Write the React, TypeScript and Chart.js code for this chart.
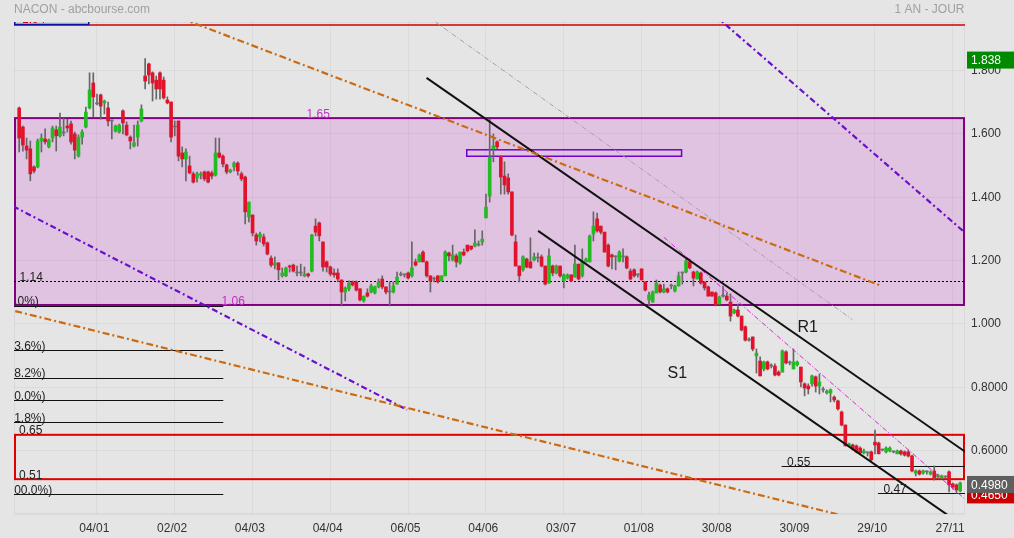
import React, { useEffect, useRef } from "react";
import { Chart, registerables } from "chart.js";
Chart.register(...registerables);

// ---- Daily OHLC, one value per trading session (index 0 = first session shown) ----
const OPEN = [1.682,1.622,1.562,1.553,1.496,1.496,1.578,1.584,1.559,1.587,1.613,1.594,1.603,1.625,1.632,1.600,1.530,1.590,1.622,1.682,1.761,1.695,1.723,1.698,1.682,1.641,1.609,1.606,1.673,1.628,1.590,1.562,1.590,1.641,1.783,1.821,1.793,1.770,1.793,1.770,1.707,1.701,1.622,1.641,1.540,1.521,1.499,1.474,1.461,1.470,1.480,1.480,1.477,1.470,1.540,1.530,1.502,1.480,1.496,1.508,1.474,1.464,1.338,1.344,1.281,1.275,1.275,1.256,1.208,1.186,1.193,1.152,1.152,1.183,1.186,1.161,1.161,1.152,1.158,1.167,1.309,1.319,1.259,1.196,1.180,1.161,1.161,1.139,1.101,1.111,1.133,1.133,1.111,1.073,1.098,1.101,1.098,1.117,1.142,1.117,1.101,1.101,1.126,1.155,1.155,1.161,1.152,1.196,1.196,1.227,1.196,1.152,1.142,1.152,1.136,1.152,1.224,1.202,1.215,1.193,1.227,1.249,1.246,1.246,1.249,1.259,1.335,1.404,1.553,1.575,1.530,1.467,1.461,1.417,1.259,1.183,1.171,1.205,1.196,1.202,1.208,1.212,1.183,1.129,1.183,1.161,1.183,1.136,1.145,1.155,1.148,1.189,1.152,1.196,1.196,1.284,1.332,1.309,1.290,1.249,1.218,1.212,1.199,1.212,1.212,1.167,1.171,1.155,1.174,1.133,1.076,1.069,1.098,1.123,1.101,1.111,1.120,1.104,1.120,1.161,1.164,1.196,1.164,1.142,1.161,1.133,1.117,1.101,1.098,1.063,1.088,1.088,1.069,1.035,1.044,1.025,0.991,0.949,0.959,0.899,0.883,0.858,0.880,0.867,0.867,0.848,0.848,0.912,0.877,0.858,0.871,0.864,0.811,0.804,0.811,0.833,0.804,0.792,0.782,0.782,0.769,0.757,0.722,0.681,0.615,0.618,0.615,0.608,0.593,0.593,0.596,0.627,0.624,0.602,0.596,0.599,0.596,0.590,0.599,0.596,0.596,0.583,0.529,0.536,0.529,0.533,0.526,0.536,0.517,0.514,0.517,0.533,0.495,0.492,0.473];
const HIGH = [1.685,1.625,1.587,1.578,1.499,1.584,1.600,1.616,1.584,1.625,1.625,1.666,1.650,1.647,1.641,1.606,1.597,1.613,1.685,1.793,1.793,1.726,1.726,1.707,1.701,1.644,1.628,1.631,1.676,1.638,1.594,1.628,1.641,1.692,1.838,1.824,1.796,1.783,1.796,1.780,1.717,1.701,1.641,1.641,1.559,1.553,1.530,1.480,1.480,1.480,1.483,1.483,1.483,1.587,1.587,1.534,1.505,1.489,1.512,1.512,1.480,1.467,1.385,1.344,1.287,1.290,1.284,1.259,1.215,1.212,1.193,1.177,1.180,1.186,1.189,1.183,1.189,1.180,1.161,1.283,1.332,1.322,1.259,1.199,1.183,1.174,1.174,1.139,1.117,1.136,1.136,1.136,1.111,1.088,1.111,1.126,1.120,1.142,1.152,1.117,1.133,1.133,1.164,1.164,1.158,1.164,1.259,1.205,1.221,1.231,1.199,1.152,1.148,1.152,1.152,1.231,1.227,1.249,1.221,1.227,1.237,1.249,1.246,1.297,1.262,1.294,1.410,1.647,1.600,1.578,1.530,1.512,1.474,1.417,1.281,1.183,1.215,1.208,1.272,1.224,1.224,1.218,1.183,1.237,1.186,1.186,1.183,1.158,1.158,1.155,1.249,1.189,1.237,1.208,1.281,1.354,1.350,1.309,1.290,1.253,1.221,1.215,1.231,1.237,1.215,1.174,1.174,1.158,1.174,1.133,1.101,1.104,1.139,1.126,1.126,1.114,1.126,1.123,1.164,1.164,1.205,1.205,1.167,1.167,1.164,1.133,1.120,1.101,1.101,1.088,1.120,1.098,1.095,1.047,1.063,1.025,0.994,0.956,0.959,0.921,0.896,0.883,0.883,0.874,0.874,0.852,0.918,0.915,0.883,0.921,0.883,0.864,0.814,0.811,0.839,0.836,0.842,0.801,0.792,0.795,0.773,0.760,0.725,0.681,0.624,0.621,0.618,0.612,0.605,0.596,0.599,0.665,0.627,0.605,0.612,0.612,0.599,0.602,0.602,0.599,0.602,0.586,0.539,0.539,0.539,0.536,0.536,0.552,0.526,0.523,0.520,0.536,0.498,0.495,0.501];
const LOW = [1.543,1.546,1.521,1.452,1.477,1.493,1.543,1.568,1.556,1.575,1.546,1.590,1.594,1.606,1.568,1.521,1.527,1.568,1.619,1.679,1.654,1.692,1.647,1.663,1.625,1.584,1.606,1.603,1.600,1.594,1.553,1.559,1.562,1.638,1.742,1.758,1.704,1.710,1.710,1.710,1.695,1.575,1.594,1.515,1.496,1.452,1.474,1.445,1.448,1.458,1.452,1.445,1.458,1.467,1.524,1.496,1.474,1.477,1.483,1.470,1.452,1.316,1.322,1.278,1.249,1.259,1.246,1.218,1.180,1.174,1.139,1.148,1.149,1.164,1.164,1.152,1.152,1.149,1.148,1.164,1.278,1.262,1.167,1.164,1.152,1.148,1.133,1.057,1.073,1.104,1.120,1.104,1.073,1.069,1.085,1.098,1.095,1.114,1.111,1.095,1.057,1.098,1.126,1.152,1.148,1.142,1.148,1.183,1.196,1.196,1.148,1.101,1.133,1.129,1.136,1.152,1.199,1.199,1.180,1.189,1.215,1.227,1.234,1.243,1.246,1.249,1.335,1.385,1.512,1.553,1.410,1.410,1.410,1.278,1.183,1.133,1.167,1.177,1.177,1.199,1.196,1.180,1.123,1.129,1.152,1.158,1.148,1.114,1.142,1.133,1.148,1.139,1.148,1.196,1.196,1.262,1.290,1.284,1.227,1.180,1.174,1.171,1.196,1.196,1.174,1.139,1.148,1.148,1.139,1.104,1.057,1.069,1.098,1.098,1.098,1.098,1.111,1.101,1.120,1.126,1.161,1.174,1.120,1.142,1.126,1.107,1.088,1.088,1.057,1.063,1.085,1.073,1.009,1.032,1.022,0.978,0.946,0.946,0.915,0.845,0.836,0.852,0.855,0.861,0.836,0.836,0.848,0.874,0.871,0.858,0.867,0.801,0.773,0.779,0.804,0.785,0.779,0.785,0.779,0.754,0.754,0.728,0.678,0.615,0.612,0.602,0.593,0.590,0.590,0.583,0.567,0.590,0.590,0.599,0.593,0.596,0.593,0.590,0.586,0.583,0.580,0.533,0.520,0.523,0.526,0.526,0.523,0.507,0.514,0.511,0.514,0.470,0.479,0.465,0.470];
const CLOSE = [1.587,1.565,1.549,1.474,1.483,1.578,1.587,1.575,1.581,1.619,1.594,1.622,1.603,1.619,1.575,1.549,1.590,1.606,1.669,1.739,1.717,1.695,1.688,1.704,1.641,1.641,1.625,1.628,1.635,1.597,1.578,1.572,1.628,1.679,1.767,1.786,1.761,1.742,1.742,1.714,1.698,1.590,1.622,1.530,1.521,1.543,1.477,1.448,1.474,1.474,1.458,1.448,1.467,1.540,1.527,1.505,1.480,1.486,1.508,1.483,1.458,1.354,1.385,1.287,1.262,1.284,1.253,1.221,1.186,1.193,1.171,1.161,1.177,1.180,1.167,1.161,1.161,1.158,1.152,1.281,1.290,1.278,1.180,1.180,1.158,1.155,1.142,1.101,1.114,1.129,1.123,1.107,1.076,1.088,1.088,1.120,1.117,1.133,1.117,1.101,1.101,1.120,1.148,1.155,1.155,1.145,1.177,1.186,1.218,1.196,1.152,1.136,1.142,1.133,1.152,1.227,1.215,1.218,1.196,1.227,1.218,1.231,1.237,1.256,1.249,1.268,1.369,1.527,1.562,1.559,1.464,1.439,1.417,1.281,1.183,1.152,1.212,1.180,1.177,1.212,1.208,1.183,1.126,1.215,1.161,1.183,1.152,1.155,1.155,1.136,1.189,1.142,1.196,1.205,1.278,1.309,1.294,1.290,1.227,1.183,1.212,1.212,1.227,1.212,1.177,1.142,1.152,1.155,1.139,1.107,1.092,1.101,1.129,1.101,1.111,1.101,1.120,1.120,1.152,1.161,1.199,1.177,1.145,1.164,1.129,1.114,1.088,1.088,1.060,1.085,1.088,1.076,1.025,1.044,1.025,0.981,0.949,0.949,0.921,0.908,0.836,0.880,0.858,0.867,0.839,0.839,0.915,0.877,0.877,0.880,0.880,0.817,0.798,0.795,0.836,0.804,0.817,0.792,0.788,0.792,0.760,0.732,0.681,0.615,0.621,0.605,0.596,0.593,0.599,0.593,0.571,0.618,0.590,0.602,0.608,0.608,0.596,0.599,0.590,0.586,0.583,0.536,0.536,0.526,0.536,0.533,0.533,0.514,0.523,0.520,0.517,0.492,0.485,0.476,0.498];

// ---- Axes ----
const X_TICK_INDEX = [21, 42, 63, 84, 105, 126, 147, 168, 189, 210, 231, 252];
const X_TICK_LABELS = ["04/01", "02/02", "04/03", "04/04", "06/05", "04/06", "03/07", "01/08", "30/08", "30/09", "29/10", "27/11"];
const Y_TICKS = [0.4, 0.6, 0.8, 1.0, 1.2, 1.4, 1.6, 1.8];
const X_RANGE = [-1.4, 255.3];
const Y_RANGE = [0.4, 1.9535];

// ---- Drawing-tool levels ----
const ZONE = [1.06, 1.65];             // purple zone
const RED_ZONE = [0.51, 0.65];         // red zone
const TOP_LINE = 1.944;                // red horizontal line at top
const DOTTED_LEVEL = 1.135;            // dotted line labelled 1.14
const FIB_HIGH = 1.058;
const FIB_LOW = 0.463;
const FIB_RATIOS = [0, 0.236, 0.382, 0.5, 0.618, 1];
const FIB_END_INDEX = 55.1;
const SUPPORTS = [
  { value: 0.55, fromIndex: 205.8, label: "0.55" },
  { value: 0.465, fromIndex: 231.8, label: "0.47" },
];
const SMALL_BOX = { x0: 120.8, x1: 178.8, y0: 1.5296, y1: 1.55 };
const LAST_PRICE = 0.498;
const PERIOD_HIGH = 1.838;
const PERIOD_LOW = 0.465;

// trend lines: [startIndex, startValue, endIndex, endValue]
const ORANGE_UPPER = [40, 1.982, 232.8, 1.12];
const ORANGE_LOWER = [-5, 1.052, 260, 0.286];
const PURPLE_LOWER = [-5, 1.392, 104.7, 0.729];
const PURPLE_UPPER = [185, 2.003, 258, 1.261];
const GREY_LINE = [108, 1.99, 224.9, 1.014];
const CHANNEL_R1 = [109.96, 1.777, 258, 0.575];
const CHANNEL_S1 = [140.07, 1.294, 258, 0.337];
const MAGENTA_LINE = [174, 1.274, 256, 0.44];

const FONT = "'Liberation Sans', Arial, sans-serif";
const BG = "#e5e5e5";
const T = 2.5; // vertical nudge so 'middle' text sits where the glyph centres are

function seg(l: number[], color: string, width: number, dash: number[]) {
  return {
    type: "line" as const,
    data: [{ x: l[0], y: l[1] }, { x: l[2], y: l[3] }],
    borderColor: color,
    borderWidth: width,
    borderDash: dash,
    pointRadius: 0,
    fill: false,
    tension: 0,
    order: 0,
  };
}

const annotations = {
  id: "annotations",
  beforeDraw(chart: any) {
    const { ctx, chartArea: a, scales } = chart;
    const y = scales.y;
    ctx.save();
    ctx.fillStyle = BG;
    ctx.fillRect(0, 0, chart.width, chart.height);
    const zt = y.getPixelForValue(ZONE[1]);
    const zb = y.getPixelForValue(ZONE[0]);
    ctx.fillStyle = "#e0c3e0";
    ctx.fillRect(a.left, zt, a.right - a.left, zb - zt);
    ctx.restore();
  },
  beforeDatasetsDraw(chart: any) {
    const { ctx, chartArea: a, scales } = chart;
    const x = scales.x, y = scales.y;
    ctx.save();
    ctx.beginPath();
    ctx.rect(a.left, a.top, a.right - a.left, a.bottom - a.top);
    ctx.clip();
    ctx.strokeStyle = "rgba(0,0,0,0.05)";
    ctx.lineWidth = 1;
    ctx.strokeRect(a.left + 0.5, a.top + 0.5, a.right - a.left - 1, a.bottom - a.top - 1);

    const zt = y.getPixelForValue(ZONE[1]);
    const zb = y.getPixelForValue(ZONE[0]);
    ctx.strokeStyle = "#800080";
    ctx.lineWidth = 2;
    ctx.strokeRect(a.left + 1, zt, a.right - a.left - 2, zb - zt);

    const rt = y.getPixelForValue(RED_ZONE[1]);
    const rb = y.getPixelForValue(RED_ZONE[0]);
    ctx.strokeStyle = "#e00000";
    ctx.lineWidth = 2;
    ctx.strokeRect(a.left + 1, rt, a.right - a.left - 2, rb - rt);

    const tl = y.getPixelForValue(TOP_LINE);
    ctx.lineWidth = 1.5;
    ctx.strokeStyle = "#cc0000";
    ctx.beginPath();
    ctx.moveTo(a.left, tl);
    ctx.lineTo(a.right, tl);
    ctx.stroke();

    ctx.fillStyle = "#c9d5dd";
    ctx.fillRect(a.left, tl - 16, 75, 15.5);
    ctx.strokeStyle = "#1010a0";
    ctx.lineWidth = 1.5;
    ctx.strokeRect(a.left + 0.75, tl - 16, 74, 15.5);
    ctx.fillStyle = "#dd0000";
    ctx.font = "12px " + FONT;
    ctx.textBaseline = "alphabetic";
    ctx.textAlign = "left";
    ctx.fillText(TOP_LINE.toFixed(2), a.left + 8, tl - 2);

    const dl = Math.round(y.getPixelForValue(DOTTED_LEVEL)) + 0.5;
    ctx.strokeStyle = "#000";
    ctx.lineWidth = 1;
    ctx.setLineDash([2, 2]);
    ctx.beginPath();
    ctx.moveTo(a.left, dl);
    ctx.lineTo(a.right, dl);
    ctx.stroke();
    ctx.setLineDash([]);

    const fx1 = x.getPixelForValue(FIB_END_INDEX);
    FIB_RATIOS.forEach((r) => {
      const v = FIB_HIGH - r * (FIB_HIGH - FIB_LOW);
      const py = Math.round(y.getPixelForValue(v)) + 0.5;
      ctx.strokeStyle = "#111";
      ctx.beginPath();
      ctx.moveTo(a.left, py);
      ctx.lineTo(fx1, py);
      ctx.stroke();
    });

    SUPPORTS.forEach((s) => {
      const py = Math.round(y.getPixelForValue(s.value)) + 0.5;
      ctx.strokeStyle = "#111";
      ctx.beginPath();
      ctx.moveTo(x.getPixelForValue(s.fromIndex), py);
      ctx.lineTo(a.right, py);
      ctx.stroke();
    });

    const bx0 = x.getPixelForValue(SMALL_BOX.x0);
    const bx1 = x.getPixelForValue(SMALL_BOX.x1);
    const by0 = y.getPixelForValue(SMALL_BOX.y1);
    const by1 = y.getPixelForValue(SMALL_BOX.y0);
    ctx.strokeStyle = "#7000cc";
    ctx.lineWidth = 1.5;
    ctx.strokeRect(bx0, by0, bx1 - bx0, by1 - by0);
    ctx.restore();
  },
  afterDatasetsDraw(chart: any) {
    const { ctx, chartArea: a, scales } = chart;
    const x = scales.x, y = scales.y;
    ctx.save();
    ctx.beginPath();
    ctx.rect(a.left, a.top, a.right - a.left, a.bottom - a.top);
    ctx.clip();
    ctx.textBaseline = "middle";
    ctx.textAlign = "left";
    ctx.font = "12px " + FONT;

    ctx.fillStyle = "#c030c0";
    ctx.fillText(ZONE[1].toFixed(2), 306.5, y.getPixelForValue(ZONE[1]) - 6 + T);
    ctx.fillText(ZONE[0].toFixed(2), 221.5, y.getPixelForValue(ZONE[0]) - 5.5 + T);

    ctx.fillStyle = "#222";
    ctx.fillText("1.14", a.left + 5.5, y.getPixelForValue(DOTTED_LEVEL) - 6.5 + T);
    ctx.fillText(RED_ZONE[1].toFixed(2), a.left + 5, y.getPixelForValue(RED_ZONE[1]) - 6.5 + T);
    ctx.fillText(RED_ZONE[0].toFixed(2), a.left + 5, y.getPixelForValue(RED_ZONE[0]) - 5.5 + T);

    SUPPORTS.forEach((s) => {
      ctx.fillText(s.label, x.getPixelForValue(s.fromIndex) + 5.5, y.getPixelForValue(s.value) - 6.5 + T);
    });

    FIB_RATIOS.forEach((r) => {
      const v = FIB_HIGH - r * (FIB_HIGH - FIB_LOW);
      const py = y.getPixelForValue(v);
      ctx.fillText("(" + (r * 100).toFixed(1) + "%)", 3.5, py - 6 + T);
    });

    ctx.font = "16px " + FONT;
    ctx.fillStyle = "#1a1a1a";
    ctx.fillText("R1", 797.5, 326 + 2);
    ctx.fillText("S1", 667.5, 372 + 2);
    ctx.restore();
  },
  afterDraw(chart: any) {
    const { ctx, chartArea: a, scales } = chart;
    const y = scales.y;
    ctx.save();
    ctx.font = "12px " + FONT;
    ctx.textBaseline = "middle";
    ctx.fillStyle = "#a0a0a0";
    ctx.textAlign = "left";
    ctx.fillText("NACON - abcbourse.com", 14, 8.5 + 1.5);
    ctx.textAlign = "right";
    ctx.fillText("1 AN - JOUR", 964.5, 8.5 + 1.5);

    const tag = (v: number, text: string, fill: string) => {
      const cy = y.getPixelForValue(v) + 1.5;
      ctx.fillStyle = fill;
      ctx.fillRect(a.right + 2, cy - 8.5, chart.width - a.right - 2, 17);
      ctx.fillStyle = "#fff";
      ctx.textAlign = "left";
      ctx.fillText(text, a.right + 6, cy + 1);
    };
    tag(PERIOD_HIGH, PERIOD_HIGH.toFixed(3), "#008a00");
    tag(PERIOD_LOW, PERIOD_LOW.toFixed(4), "#cc0000");
    tag(LAST_PRICE, LAST_PRICE.toFixed(4), "#5f5f5f");
    ctx.restore();
  },
};

export default function App() {
  const ref = useRef<HTMLCanvasElement | null>(null);
  useEffect(() => {
    if (!ref.current) return;
    const bodies = OPEN.map((o, i) => ({ x: i, y: [o, CLOSE[i]] }));
    const wicks = OPEN.map((_, i) => ({ x: i, y: [LOW[i], HIGH[i]] }));
    const colors = OPEN.map((o, i) => (CLOSE[i] > o ? "#22bb22" : CLOSE[i] < o ? "#e0132b" : "#707070"));
    const chart = new Chart(ref.current, {
      type: "bar",
      data: {
        datasets: [
          seg(ORANGE_UPPER, "#cc6a10", 2.2, [7, 3, 2, 3]),
          seg(ORANGE_LOWER, "#cc6a10", 2.2, [7, 3, 2, 3]),
          seg(PURPLE_LOWER, "#6a10cc", 2.2, [6, 3, 2, 3]),
          seg(PURPLE_UPPER, "#6a10cc", 2.2, [6, 3, 2, 3]),
          seg(GREY_LINE, "#a8a0a8", 1, [5, 2, 1, 2]),
          seg(CHANNEL_R1, "#111111", 2, []),
          seg(CHANNEL_S1, "#111111", 2, []),
          seg(MAGENTA_LINE, "#dd22dd", 1, [5, 2, 1, 2]),
          {
            type: "bar",
            data: bodies as any,
            backgroundColor: colors,
            barThickness: 3,
            minBarLength: 1,
            grouped: false,
            order: 1,
          } as any,
          {
            type: "bar",
            data: wicks as any,
            backgroundColor: "#666666",
            barThickness: 1,
            minBarLength: 1,
            grouped: false,
            order: 2,
          } as any,
        ] as any,
      },
      options: {
        responsive: false,
        animation: false,
        devicePixelRatio: 1,
        layout: { padding: { left: 14, top: 22, right: 0, bottom: 0 }, autoPadding: false },
        plugins: { legend: { display: false }, tooltip: { enabled: false } },
        scales: {
          x: {
            type: "linear",
            min: X_RANGE[0],
            max: X_RANGE[1],
            offset: false,
            afterBuildTicks: (s: any) => {
              s.ticks = X_TICK_INDEX.map((v) => ({ value: v }));
            },
            afterFit: (s: any) => {
              s.height = 24;
            },
            ticks: {
              autoSkip: false,
              maxRotation: 0,
              padding: 7,
              labelOffset: -2.7,
              color: "#333",
              font: { size: 12, family: FONT },
              callback: (v: any) => {
                const k = X_TICK_INDEX.indexOf(Number(v));
                return k >= 0 ? X_TICK_LABELS[k] : "";
              },
            },
            grid: { color: "rgba(0,0,0,0.045)", drawTicks: false, tickLength: 0, offset: false },
            border: { display: false },
          },
          y: {
            type: "linear",
            position: "right",
            min: Y_RANGE[0],
            max: Y_RANGE[1],
            afterBuildTicks: (s: any) => {
              s.ticks = Y_TICKS.map((v) => ({ value: v }));
            },
            afterFit: (s: any) => {
              s.width = 49;
            },
            ticks: {
              padding: 6,
              labelOffset: 0,
              color: "#333",
              font: { size: 12, family: FONT },
              callback: (v: any) => {
                const n = Number(v);
                if (n < 0.5) return "";
                return n >= 1 ? n.toFixed(3) : n.toFixed(4);
              },
            },
            grid: { color: "rgba(0,0,0,0.045)", drawTicks: false, tickLength: 0 },
            border: { display: false },
          },
        },
      } as any,
      plugins: [annotations],
    });
    return () => chart.destroy();
  }, []);
  return (
    <div style={{ position: "fixed", left: 0, top: 0, width: 1014, height: 538, background: BG }}>
      <canvas ref={ref} width={1014} height={538} style={{ display: "block" }} />
    </div>
  );
}
